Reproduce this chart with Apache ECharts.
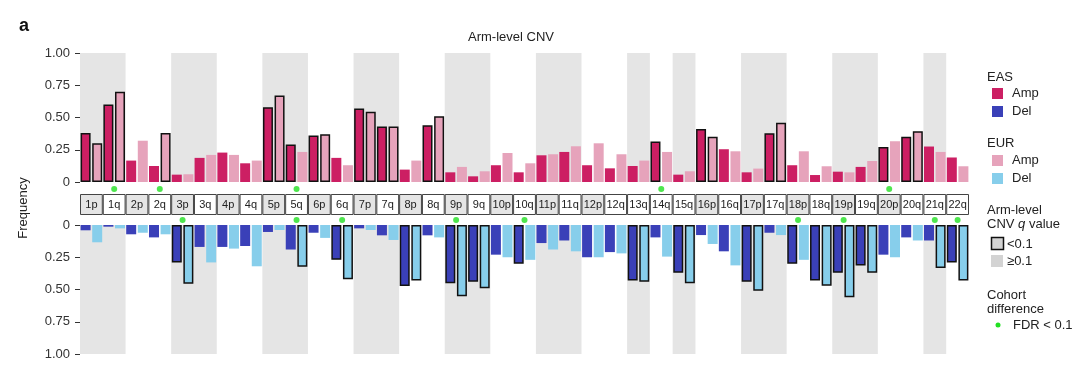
<!DOCTYPE html>
<html><head><meta charset="utf-8">
<script src="https://cdn.jsdelivr.net/npm/echarts@6/dist/echarts.min.js"></script>
<style>html,body{margin:0;padding:0;background:#fff}#c{width:1080px;height:368px}</style>
</head><body><div id="c"></div>
<script>
// ---- data ----
const arms = ['1p','1q','2p','2q','3p','3q','4p','4q','5p','5q','6p','6q','7p','7q','8p','8q','9p','9q','10p','10q','11p','11q','12p','12q','13q','14q','15q','16p','16q','17p','17q','18p','18q','19p','19q','20p','20q','21q','22q'];
const easAmp = [0.38,0.60,0.166,0.124,0.057,0.187,0.228,0.145,0.58,0.29,0.36,0.187,0.57,0.43,0.096,0.44,0.075,0.044,0.13,0.075,0.207,0.233,0.13,0.106,0.124,0.313,0.057,0.41,0.254,0.075,0.378,0.13,0.054,0.08,0.117,0.272,0.35,0.275,0.19];
const eurAmp = [0.30,0.70,0.32,0.38,0.06,0.21,0.21,0.166,0.67,0.233,0.37,0.13,0.544,0.43,0.166,0.51,0.117,0.083,0.225,0.145,0.215,0.277,0.30,0.215,0.166,0.233,0.083,0.35,0.238,0.104,0.46,0.238,0.122,0.075,0.163,0.316,0.394,0.233,0.122];
const easDel = [0.041,0.013,0.072,0.096,0.29,0.17,0.17,0.163,0.054,0.19,0.06,0.27,0.026,0.08,0.473,0.08,0.452,0.44,0.23,0.30,0.14,0.12,0.25,0.21,0.43,0.096,0.37,0.078,0.204,0.44,0.06,0.30,0.43,0.37,0.313,0.23,0.096,0.12,0.29];
const eurDel = [0.134,0.026,0.06,0.072,0.455,0.29,0.183,0.32,0.039,0.323,0.10,0.42,0.039,0.116,0.43,0.096,0.553,0.49,0.25,0.27,0.19,0.204,0.25,0.22,0.44,0.245,0.452,0.147,0.313,0.51,0.078,0.27,0.47,0.56,0.37,0.25,0.12,0.333,0.43];
const easAmpSig = ['1p','1q','5p','5q','6p','7p','7q','8q','14q','16p','17q','20p','20q'];
const eurAmpSig = ['1p','1q','2q','5p','6p','7p','7q','8q','16p','17q','20q'];
const easDelSig = ['3p','6q','8p','9p','9q','10q','13q','15q','17p','18p','18q','19p','19q','22q'];
const eurDelSig = ['3p','5q','6q','8p','9p','9q','13q','15q','17p','18q','19p','19q','21q','22q'];
const ampFdr = ['1q','2q','5q','14q','20p'];
const delFdr = ['3p','5q','6q','9p','10q','18p','19p','21q','22q'];
const grayChroms = ['1','3','5','7','9','11','13','15','17','19','21'];
const yTicks = [0,0.25,0.5,0.75,1];

// ---- styles ----
const C = {easAmp:'#cc1f63', eurAmp:'#e6a3bb', easDel:'#3a40b8', eurDel:'#87ceeb', band:'#e5e5e5'};
const FONT = '"Liberation Sans", Arial, Helvetica, sans-serif';
const L = 80, W = 889;

const chromOf = a => a.slice(0, -1);
const bands = grayChroms.map(c => {
  const idx = arms.map((a, i) => chromOf(a) === c ? i : -1).filter(i => i >= 0);
  return [idx[0], idx[idx.length - 1], 0, 1];
});

function bandRender(params, api) {
  const s = api.value(0), e = api.value(1);
  const w = api.size([1, 0])[0];
  const p0 = api.coord([s, 1]), p1 = api.coord([e, 0]);
  const x0 = p0[0] - w / 2, x1 = p1[0] + w / 2;
  const y0 = Math.min(p0[1], p1[1]), y1 = Math.max(p0[1], p1[1]);
  return {type: 'rect', shape: {x: x0, y: y0, width: x1 - x0, height: y1 - y0}, style: {fill: C.band}};
}

function mk(vals, sigs) {
  return vals.map((v, i) => sigs.includes(arms[i])
    ? {value: v, itemStyle: {borderColor: '#111', borderWidth: 1.5}}
    : v);
}

const yAxisBase = (inverse) => ({
  type: 'value', min: 0, max: 1, interval: 0.25, inverse: inverse,
  axisLine: {show: false},
  axisTick: {show: true, length: 5, lineStyle: {color: '#333', width: 1}},
  splitLine: {show: false},
  axisLabel: {margin: 10, fontSize: 13, color: '#333', fontFamily: FONT,
    formatter: v => v === 0 ? '0' : v.toFixed(2)}
});
const hiddenCat = (gi) => ({type: 'category', gridIndex: gi, data: arms, boundaryGap: true,
  axisLine: {show: false}, axisTick: {show: false}, axisLabel: {show: false}, splitLine: {show: false}});
const hiddenVal = (gi) => ({type: 'value', gridIndex: gi, min: 0, max: 1,
  axisLine: {show: false}, axisTick: {show: false}, axisLabel: {show: false}, splitLine: {show: false}});

const option = {
  animation: false,
  backgroundColor: '#fff',
  textStyle: {fontFamily: FONT},
  grid: [
    {left: L, width: W, top: 53, height: 129},
    {left: L, width: W, top: 225, height: 129},
    {left: L, width: W, top: 194, height: 21},
    {left: L, width: W, top: 184, height: 40}
  ],
  xAxis: [hiddenCat(0), hiddenCat(1), hiddenCat(2), hiddenCat(3)],
  yAxis: [
    Object.assign(yAxisBase(false), {gridIndex: 0}),
    Object.assign(yAxisBase(true), {gridIndex: 1}),
    hiddenVal(2), hiddenVal(3)
  ],
  legend: [
    {data: ['EAS Amp', 'EAS Del'], left: 992, top: 87, orient: 'vertical', padding: 0,
     itemWidth: 11, itemHeight: 11, itemGap: 5, icon: 'rect', selectedMode: false,
     formatter: n => n.split(' ')[1], textStyle: {fontSize: 13, color: '#222', fontFamily: FONT, padding: [0,0,0,4]}},
    {data: ['EUR Amp', 'EUR Del'], left: 992, top: 154, orient: 'vertical', padding: 0,
     itemWidth: 11, itemHeight: 11, itemGap: 5, icon: 'rect', selectedMode: false,
     formatter: n => n.split(' ')[1], textStyle: {fontSize: 13, color: '#222', fontFamily: FONT, padding: [0,0,0,4]}}
  ],
  series: [
    {type: 'custom', name: 'bandTop', xAxisIndex: 0, yAxisIndex: 0, data: bands, renderItem: bandRender,
     encode: {x: [0, 1], y: [2, 3]}, z: 0, silent: true},
    {type: 'custom', name: 'bandBot', xAxisIndex: 1, yAxisIndex: 1, data: bands, renderItem: bandRender,
     encode: {x: [0, 1], y: [2, 3]}, z: 0, silent: true},
    {type: 'bar', name: 'EAS Amp', xAxisIndex: 0, yAxisIndex: 0, data: mk(easAmp, easAmpSig),
     itemStyle: {color: C.easAmp}, barWidth: 10, barGap: '16%', z: 2},
    {type: 'bar', name: 'EUR Amp', xAxisIndex: 0, yAxisIndex: 0, data: mk(eurAmp, eurAmpSig),
     itemStyle: {color: C.eurAmp}, barWidth: 10, barGap: '16%', z: 2},
    {type: 'bar', name: 'EAS Del', xAxisIndex: 1, yAxisIndex: 1, data: mk(easDel, easDelSig),
     itemStyle: {color: C.easDel}, barWidth: 10, barGap: '16%', z: 2},
    {type: 'bar', name: 'EUR Del', xAxisIndex: 1, yAxisIndex: 1, data: mk(eurDel, eurDelSig),
     itemStyle: {color: C.eurDel}, barWidth: 10, barGap: '16%', z: 2},
    {type: 'bar', name: 'strip', xAxisIndex: 2, yAxisIndex: 2, barWidth: '100%',
     data: arms.map(a => ({value: 1, itemStyle: {color: a.endsWith('p') ? '#e5e5e5' : '#ffffff'}})),
     itemStyle: {borderColor: '#444', borderWidth: 1},
     label: {show: true, position: 'inside', formatter: p => arms[p.dataIndex], fontSize: 11, color: '#222', fontFamily: FONT},
     silent: true},
    {type: 'scatter', name: 'ampFdr', xAxisIndex: 3, yAxisIndex: 3, symbolSize: 6,
     data: ampFdr.map(a => [a, 0.875]), itemStyle: {color: '#22e022'}, z: 5},
    {type: 'scatter', name: 'delFdr', xAxisIndex: 3, yAxisIndex: 3, symbolSize: 6,
     data: delFdr.map(a => [a, 0.1]), itemStyle: {color: '#22e022'}, z: 5}
  ],
  graphic: [
    {type: 'text', left: 19, top: 17, style: {text: 'a', font: 'bold 18px ' + FONT, fill: '#111'}},
    {type: 'text', x: 511, y: 37, style: {text: 'Arm-level CNV', font: '13px ' + FONT, fill: '#222', align: 'center', verticalAlign: 'middle'}},
    {type: 'text', x: 23, y: 208, rotation: Math.PI / 2, style: {text: 'Frequency', font: '13px ' + FONT, fill: '#222', align: 'center', verticalAlign: 'middle'}},
    {type: 'text', x: 987, y: 77, style: {text: 'EAS', font: '13px ' + FONT, fill: '#222', verticalAlign: 'middle'}},
    {type: 'text', x: 987, y: 143, style: {text: 'EUR', font: '13px ' + FONT, fill: '#222', verticalAlign: 'middle'}},
    {type: 'text', x: 987, y: 210, style: {text: 'Arm-level', font: '13px ' + FONT, fill: '#222', verticalAlign: 'middle'}},
    {type: 'text', x: 987, y: 224, style: {rich: {n: {font: '13px ' + FONT, fill: '#222'}, i: {font: 'italic 13px ' + FONT, fill: '#222'}}, text: '{n|CNV }{i|q}{n| value}', verticalAlign: 'middle'}},
    {type: 'rect', shape: {x: 991.5, y: 237.5, width: 12, height: 12}, style: {fill: '#d3d3d3', stroke: '#111', lineWidth: 1.5}},
    {type: 'text', x: 1007, y: 244, style: {text: '<0.1', font: '13px ' + FONT, fill: '#222', verticalAlign: 'middle'}},
    {type: 'rect', shape: {x: 991, y: 255, width: 12, height: 12}, style: {fill: '#d3d3d3'}},
    {type: 'text', x: 1007, y: 261, style: {text: '≥0.1', font: '13px ' + FONT, fill: '#222', verticalAlign: 'middle'}},
    {type: 'text', x: 987, y: 295, style: {text: 'Cohort', font: '13px ' + FONT, fill: '#222', verticalAlign: 'middle'}},
    {type: 'text', x: 987, y: 309, style: {text: 'difference', font: '13px ' + FONT, fill: '#222', verticalAlign: 'middle'}},
    {type: 'circle', shape: {cx: 998, cy: 325, r: 2.5}, style: {fill: '#22e022'}},
    {type: 'text', x: 1013, y: 325, style: {text: 'FDR < 0.1', font: '13px ' + FONT, fill: '#222', verticalAlign: 'middle'}}
  ]
};
const chart = echarts.init(document.getElementById('c'), null, {renderer: 'canvas'});
chart.setOption(option);
</script>
</body></html>
